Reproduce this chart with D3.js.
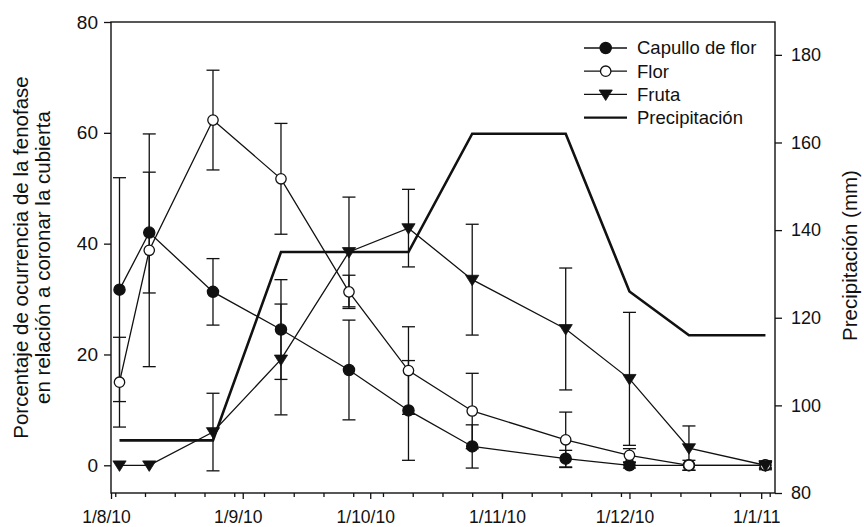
<!DOCTYPE html>
<html><head><meta charset="utf-8">
<script src="https://cdn.jsdelivr.net/npm/d3@7/dist/d3.min.js"></script>
<style>
body{margin:0;background:#fff}
text{font-family:"Liberation Sans",Arial,Helvetica,sans-serif;fill:#111}
</style>
</head><body>
<svg id="c" width="864" height="527"></svg>
<script>
// ---- data ----
const dates      = ["2010-08-03","2010-08-10","2010-08-25","2010-09-10","2010-09-26","2010-10-10","2010-10-25","2010-11-16","2010-12-01","2010-12-15","2011-01-02"];
const capullo    = [31.7, 42.0, 31.3, 24.5, 17.2, 9.9, 3.4, 1.2, 0.0, 0.0, 0.0];
const capulloErr = [20.2, 10.9, 6.0, 9.0, 9.0, 9.0, 3.9, 1.5, 0.5, 0.0, 0.5];
const flor       = [15.0, 38.8, 62.3, 51.7, 31.3, 17.1, 9.8, 4.6, 1.8, 0.0, 0.0];
const florErr    = [8.1, 21.0, 9.0, 10.0, 3.0, 7.9, 6.8, 5.0, 1.2, 0.9, 0.5];
const fruta      = [0.0, 0.0, 6.0, 19.1, 38.5, 42.8, 33.5, 24.6, 15.6, 3.1, 0.0];
const frutaErr   = [0.0, 0.0, 7.0, 10.0, 9.9, 7.0, 10.0, 11.0, 12.0, 4.0, 0.8];
const precip     = [92, 92, 92, 135, 135, 135, 162, 162, 126, 116, 116];

const xDomain    = ["2010-08-01T00:00", "2011-01-04T06:00"];
const yLeftDomain  = [-5, 80];
const yRightDomain = [80, 187.5];
const yLeftTicks   = [0, 20, 40, 60, 80];
const yRightTicks  = [80, 100, 120, 140, 160, 180];
const legendLabels = ["Capullo de flor", "Flor", "Fruta", "Precipitación"];
const yLeftTitle   = ["Porcentaje de ocurrencia de la fenofase", "en relación a coronar la cubierta"];
const yRightTitle  = "Precipitación (mm)";

// ---- layout ----
const L = 111, R = 775, T = 22, B = 493;
const svg = d3.select("#c");
const parseD = d3.timeParse("%Y-%m-%d");
const parseDT = d3.timeParse("%Y-%m-%dT%H:%M");
const dts = dates.map(parseD);

const x = d3.scaleTime().domain(xDomain.map(parseDT)).range([L, R]);
const y = d3.scaleLinear().domain(yLeftDomain).range([B, T]);
const yR = d3.scaleLinear().domain(yRightDomain).range([B, T]);

const ink = "#111";

// axes
const gx = svg.append("g").attr("transform", `translate(0,${B})`)
  .call(d3.axisBottom(x).ticks(d3.timeMonth.every(1)).tickFormat(d3.timeFormat("%-d/%-m/%y")).tickSize(6).tickPadding(12).tickSizeOuter(0));
gx.select(".domain").remove();
gx.selectAll("text").attr("font-size", 17.5).attr("dx", -5).style("font-family", null);
const gxm = svg.append("g").attr("transform", `translate(0,${B})`)
  .call(d3.axisBottom(x).ticks(d3.timeMonday.every(1)).tickFormat("").tickSize(4).tickSizeOuter(0));
gxm.select(".domain").remove();

const gy = svg.append("g").attr("transform", `translate(${L},0)`)
  .call(d3.axisLeft(y).tickValues(yLeftTicks).tickSize(7).tickPadding(6).tickSizeOuter(0));
gy.select(".domain").remove();
gy.selectAll("text").attr("font-size", 19).style("font-family", null);

const gyr = svg.append("g").attr("transform", `translate(${R},0)`)
  .call(d3.axisRight(yR).tickValues(yRightTicks).tickSize(7).tickPadding(9).tickSizeOuter(0));
gyr.select(".domain").remove();
gyr.selectAll("text").attr("font-size", 18).style("font-family", null);

svg.selectAll(".tick line").attr("stroke", ink).attr("stroke-width", 1.3);

// frame
svg.append("rect").attr("x", L).attr("y", T).attr("width", R - L).attr("height", B - T)
  .attr("fill", "none").attr("stroke", ink).attr("stroke-width", 1.4);

// titles
const lt = svg.append("text").attr("transform", `translate(0,${(T + B) / 2}) rotate(-90)`)
  .attr("text-anchor", "middle").attr("font-size", 20.5);
lt.append("tspan").attr("x", 0).attr("y", 28).text(yLeftTitle[0]);
lt.append("tspan").attr("x", 0).attr("y", 50).text(yLeftTitle[1]);
svg.append("text").attr("transform", `translate(857,${(T + B) / 2 - 2}) rotate(-90)`)
  .attr("text-anchor", "middle").attr("font-size", 20.5).text(yRightTitle);

// precipitation line
const idx = d3.range(dates.length);
svg.append("path").datum(idx)
  .attr("d", d3.line().x(i => x(dts[i])).y(i => yR(precip[i])))
  .attr("fill", "none").attr("stroke", ink).attr("stroke-width", 2.6).attr("stroke-linejoin", "miter");

const series = [
  {vals: capullo, err: capulloErr, shape: "fcircle"},
  {vals: flor, err: florErr, shape: "ocircle"},
  {vals: fruta, err: frutaErr, shape: "tri"}
];

function marker(g, shape, cx, cy) {
  if (shape === "tri") {
    const w = 6.6, h = 10.5;
    g.append("path").attr("d", `M${cx - w},${cy - h * 0.42}L${cx + w},${cy - h * 0.42}L${cx},${cy + h * 0.58}Z`)
      .attr("fill", ink).attr("stroke", ink).attr("stroke-width", 0.8);
  } else {
    g.append("circle").attr("cx", cx).attr("cy", cy).attr("r", shape === "fcircle" ? 5.6 : 5.2)
      .attr("fill", shape === "fcircle" ? ink : "#fff").attr("stroke", ink).attr("stroke-width", 1.3);
  }
}

// error bars (behind everything)
const eb = svg.append("g").attr("stroke", ink).attr("stroke-width", 1.3).attr("fill", "none");
series.forEach(s => {
  idx.forEach(i => {
    const e = s.err[i];
    if (!e) return;
    const cx = x(dts[i]), y1 = y(s.vals[i] + e), y0 = y(s.vals[i] - e);
    eb.append("line").attr("x1", cx).attr("x2", cx).attr("y1", y1).attr("y2", y0);
    eb.append("line").attr("x1", cx - 6.5).attr("x2", cx + 6.5).attr("y1", y1).attr("y2", y1);
    eb.append("line").attr("x1", cx - 6.5).attr("x2", cx + 6.5).attr("y1", y0).attr("y2", y0);
  });
});

// series lines and markers
series.forEach(s => {
  const g = svg.append("g");
  g.append("path").datum(idx)
    .attr("d", d3.line().x(i => x(dts[i])).y(i => y(s.vals[i])))
    .attr("fill", "none").attr("stroke", ink).attr("stroke-width", 1.3);
  idx.forEach(i => marker(g, s.shape, x(dts[i]), y(s.vals[i])));
});

// legend
const lg = svg.append("g");
const shapes = ["fcircle", "ocircle", "tri", null];
legendLabels.forEach((lab, k) => {
  const cy = 48 + k * 23.2;
  lg.append("line").attr("x1", 584).attr("x2", 627).attr("y1", cy).attr("y2", cy)
    .attr("stroke", ink).attr("stroke-width", shapes[k] ? 1.3 : 2.2);
  if (shapes[k]) marker(lg, shapes[k], 605.7, cy);
  lg.append("text").attr("x", 637).attr("y", cy).attr("dy", "0.35em").attr("font-size", 18.5).text(lab);
});
</script>
</body></html>
